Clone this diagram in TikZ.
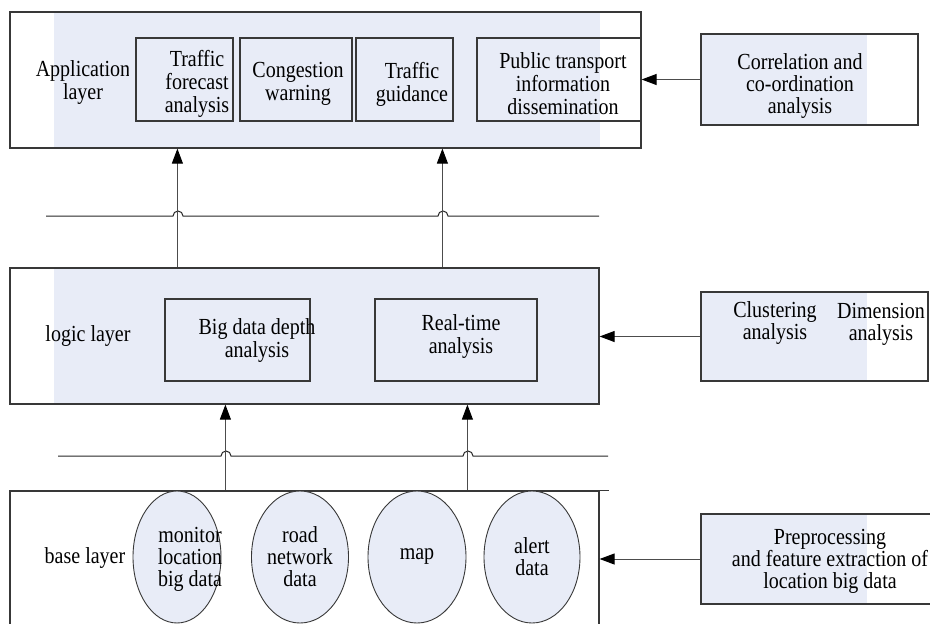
\documentclass[tikz,border=0pt]{standalone}
\usepackage{fontspec}
\setmainfont{Liberation Serif}
\newfontfamily\figfont[FakeStretch=0.87]{Liberation Serif}
\usetikzlibrary{arrows.meta,positioning,shapes.geometric,backgrounds,calc}

\definecolor{layerfill}{HTML}{E8ECF7}
\definecolor{edge}{HTML}{383838}

\begin{document}
\begin{tikzpicture}[
  x=1pt, y=-1pt,
  >={Triangle[length=15pt,width=11pt,color=black]},
  every node/.style={font=\figfont\fontsize{23}{23}\selectfont, align=center, inner sep=0pt},
  layer/.style={draw=edge, line width=1.2pt, rectangle},
  unit/.style={draw=edge, line width=1.1pt, rectangle},
  side/.style={draw=edge, line width=1.1pt, rectangle},
  sidetext/.style={font=\figfont\fontsize{23}{22}\selectfont},
  datatext/.style={font=\figfont\fontsize{23}{22}\selectfont},
  data/.style={draw=edge, line width=0.9pt, ellipse, fill=layerfill, datatext},
  arrow/.style={->, line width=1pt, draw=black!70},
  bus/.style={line width=1pt, draw=black!85}
]
\useasboundingbox (0,0) rectangle (930,624);

% LAYERS
\node[layer, minimum width=631pt, minimum height=136pt] (app)   at (325.5,80)  {};
\node[layer, minimum width=589pt, minimum height=136pt] (logic) at (304.5,336) {};
\node[layer, minimum width=589pt, minimum height=150pt] (base)  at (304.5,566) {};
\draw[layer] (base.north east) -- ++(9,0);

\begin{scope}
  \clip (0,0) rectangle (128,160);
  \node (applbl) at (83,83) {Application\\layer};
\end{scope}
\node (logiclbl) at (88,336) {logic layer};
\node (baselbl)  at (85,558) {base layer};

% APPLICATION LAYER
\node[unit, minimum width=97pt,  minimum height=83pt] (fcast) at (184.5,79.5) {};
\node (fcasttxt) at (197,84) {Traffic\\forecast\\analysis};
\node[unit, minimum width=112pt, minimum height=83pt] (cong)  at (296,79.5) {};
\node (congtxt) at (298,84) {Congestion\\warning};
\node[unit, minimum width=97pt,  minimum height=83pt] (guide) at (404.5,79.5) {};
\node (guidetxt) at (412,84) {Traffic\\guidance};
\node[unit, minimum width=164pt, minimum height=83pt] (pub)   at (559,79.5) {};
\node (pubtxt) at (563,84) {Public transport\\information\\dissemination};

% LOGIC LAYER
\node[unit, minimum width=145pt, minimum height=82pt] (bigd)  at (237.5,340) {};
\node (bigdtxt) at (257,340) {Big data depth\\analysis};
\node[unit, minimum width=162pt, minimum height=82pt] (rtime) at (456,340) {};
\node (rtimetxt) at (461,336) {Real-time\\analysis};

% BASE LAYER
\node[data, minimum width=88pt, minimum height=132pt] (mon)   at (177,557) {};
\node[datatext] (montxt) at (190,559) {monitor\\location\\big data};
\node[data, minimum width=97pt, minimum height=132pt] (road)  at (300,557) {road\\network\\data};
\node[data, minimum width=98pt, minimum height=132pt] (map)   at (417,557) {map};
\node[data, minimum width=96pt, minimum height=132pt] (alert) at (532,557) {alert\\data};

% METHODS
\node[side, minimum width=217pt, minimum height=91pt] (corr) at (809.5,79.5) {};
\node[sidetext] (corrtxt) at (800,86) {Correlation and\\co-ordination\\analysis};
\node[side, minimum width=227pt, minimum height=89pt] (clus) at (814.5,336.5) {};
\node[sidetext] (clustxt) at (775,323) {Clustering\\analysis};
\node[sidetext] (dimtxt)  at (881,324) {Dimension\\analysis};
\node[side, minimum width=239pt, minimum height=90pt] (prep) at (820.5,559) {};
\node[sidetext] (preptxt) at (830,561) {Preprocessing\\and feature extraction of\\location big data};

\begin{scope}[on background layer]
  \fill[layerfill] ([xshift=45pt]app.north west)   rectangle ([xshift=-42pt]app.south east);
  \fill[layerfill] ([xshift=45pt]logic.north west) rectangle (logic.south east);
  \fill[layerfill] (corr.north west) rectangle ([xshift=167pt]corr.south west);
  \fill[layerfill] (clus.north west) rectangle ([xshift=167pt]clus.south west);
  \fill[layerfill] (prep.north west) rectangle ([xshift=167pt]prep.south west);
\end{scope}

% BUS LINES
\coordinate (busA) at (46,216);
\coordinate (busB) at (58,456);
\draw[bus] (busA) -- (173,216) arc[start angle=180,end angle=0,radius=5pt]
           -- (438,216) arc[start angle=180,end angle=0,radius=5pt] -- (599,216);
\draw[bus] (busB) -- (221,456) arc[start angle=180,end angle=0,radius=5pt]
           -- (463,456) arc[start angle=180,end angle=0,radius=5pt] -- (608,456);

\draw[arrow] ([xshift=168pt]logic.north west) -- ([xshift=168pt]app.south west);
\draw[arrow] ([xshift=433pt]logic.north west) -- ([xshift=433pt]app.south west);
\draw[arrow] ([xshift=216pt]base.north west)  -- ([xshift=216pt]logic.south west);
\draw[arrow] ([xshift=458pt]base.north west)  -- ([xshift=458pt]logic.south west);
\draw[arrow] (corr.west) -- (corr.west -| app.east);
\draw[arrow] (clus.west) -- (clus.west -| logic.east);
\draw[arrow] (prep.west) -- (prep.west -| base.east);
\end{tikzpicture}
\end{document}
